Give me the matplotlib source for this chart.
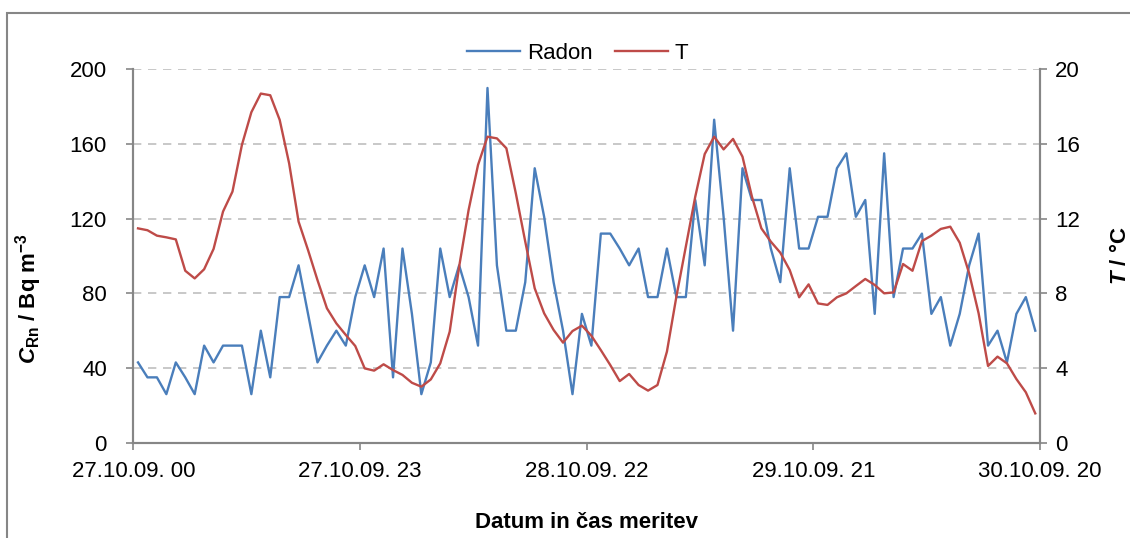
import matplotlib
matplotlib.use('Agg')
import matplotlib.pyplot as plt
from matplotlib.patches import Rectangle

plt.rcParams['font.family'] = ['Liberation Sans', 'DejaVu Sans']
plt.rcParams['mathtext.fontset'] = 'custom'
plt.rcParams['mathtext.rm'] = 'Liberation Sans:bold'
plt.rcParams['mathtext.it'] = 'Liberation Sans:italic:bold'
plt.rcParams['mathtext.bf'] = 'Liberation Sans:bold'

# hourly samples, one tick label every 24 samples
tick_labels = ['27.10.09. 00', '27.10.09. 23', '28.10.09. 22', '29.10.09. 21', '30.10.09. 20']

radon = [43, 35, 35, 26, 43, 35, 26, 52, 43, 52, 52, 52, 26, 60, 35, 78,
         78, 95, 69, 43, 52, 60, 52, 78, 95, 78, 104, 35, 104, 69, 26, 43,
         104, 78, 95, 78, 52, 190, 95, 60, 60, 86, 147, 121, 86, 60, 26, 69,
         52, 112, 112, 104, 95, 104, 78, 78, 104, 78, 78, 130, 95, 173, 121, 60,
         147, 130, 130, 104, 86, 147, 104, 104, 121, 121, 147, 155, 121, 130, 69, 155,
         78, 104, 104, 112, 69, 78, 52, 69, 95, 112, 52, 60, 43, 69, 78, 60]

temp = [11.48, 11.38, 11.09, 11.0, 10.89, 9.21, 8.80, 9.29, 10.38, 12.38, 13.45, 15.95, 17.70, 18.70, 18.61, 17.29,
        14.96, 11.84, 10.32, 8.71, 7.20, 6.39, 5.77, 5.18, 3.98, 3.86, 4.20, 3.89, 3.63, 3.21, 3.0, 3.39,
        4.25, 5.95, 9.43, 12.46, 14.88, 16.39, 16.30, 15.77, 13.36, 10.77, 8.27, 6.93, 6.04, 5.36, 5.98, 6.27,
        5.73, 4.96, 4.16, 3.30, 3.68, 3.09, 2.79, 3.09, 4.88, 7.82, 10.5, 13.18, 15.46, 16.39, 15.71, 16.27,
        15.32, 13.18, 11.48, 10.77, 10.18, 9.25, 7.79, 8.48, 7.46, 7.38, 7.79, 8.0, 8.39, 8.77, 8.45, 8.0,
        8.05, 9.57, 9.21, 10.80, 11.09, 11.45, 11.57, 10.71, 9.07, 6.93, 4.11, 4.61, 4.25, 3.41, 2.70, 1.57]

x = [i + 0.5 for i in range(len(radon))]

axis_col = '#868686'
fs = 16

fig = plt.figure(figsize=(11.3, 5.38), dpi=100)
fig.patches.append(Rectangle((7 / 1130, -0.1), 1.2, 1 - 13 / 538 + 0.1,
                             transform=fig.transFigure, fill=False,
                             edgecolor=axis_col, linewidth=1.5))

ax1 = fig.add_axes([133.3 / 1130, 1 - 442.7 / 538, (1040 - 133.3) / 1130, (442.7 - 69.3) / 538])
ax2 = ax1.twinx()

l1, = ax1.plot(x, radon, color='#4A7EBB', lw=1.7, label='Radon')
l2, = ax2.plot(x, temp, color='#BE4B48', lw=1.7, label='T')

ax1.set_xlim(0, 96)
ax1.set_ylim(0, 200)
ax2.set_ylim(0, 20)
ax1.set_yticks(range(0, 201, 40))
ax2.set_yticks(range(0, 21, 4))
ax1.set_xticks([0, 24, 48, 72, 96])
ax1.set_xticklabels(tick_labels)

ax1.yaxis.grid(True, linestyle=(0, (5, 4)), color='#BFBFBF', lw=1.2)
ax1.set_axisbelow(True)

for ax in (ax1, ax2):
    ax.spines['top'].set_visible(False)
    for s in ('left', 'right', 'bottom'):
        ax.spines[s].set_color(axis_col)
        ax.spines[s].set_linewidth(1.5)
    ax.tick_params(colors=axis_col, labelcolor='black', labelsize=fs, width=1.2, length=5)
ax1.tick_params(axis='x', pad=8)
ax1.tick_params(axis='y', pad=14)
ax2.tick_params(axis='y', pad=6)

ax1.set_ylabel(r'$C_{\mathrm{Rn}}$ / Bq m$^{\mathrm{-3}}$', fontsize=fs, fontweight='bold')
ax1.yaxis.set_label_coords(-0.098, 0.385)
ax2.set_ylabel(r'$T$ / °C', fontsize=fs, fontweight='bold', rotation=90)
ax2.yaxis.set_label_coords(1.077, 0.5)
ax1.set_xlabel('Datum in čas meritev', fontsize=fs, fontweight='bold', labelpad=22)

ax1.legend([l1, l2], ['Radon', 'T'], loc='lower center', bbox_to_anchor=(0.49, 0.99),
           ncol=2, frameon=False, fontsize=fs, handlelength=2.4, columnspacing=1.0,
           handletextpad=0.3, borderaxespad=0)

plt.savefig('out.png', dpi=100)
